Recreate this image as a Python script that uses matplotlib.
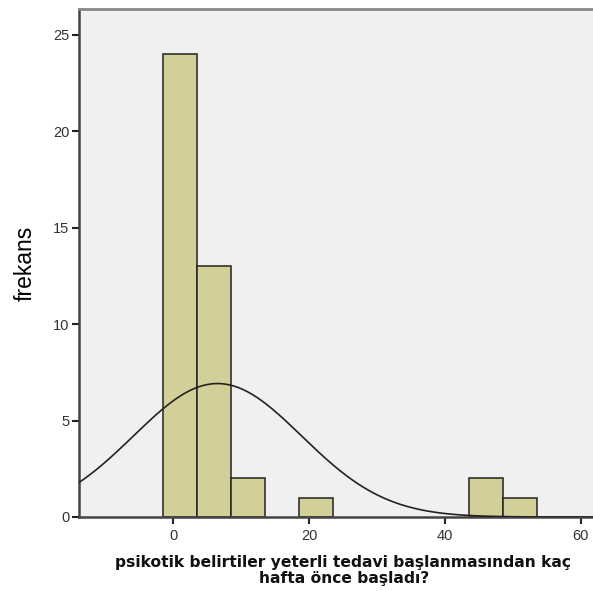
import numpy as np
import matplotlib
matplotlib.use("Agg")
import matplotlib.pyplot as plt

# Data
bin_edges = [-1.5, 3.5, 8.5, 13.5, 18.5, 23.5, 28.5, 33.5, 38.5, 43.5, 48.5, 53.5]
counts = [24, 13, 2, 0, 1, 0, 0, 0, 0, 2, 1]
mean_val = 6.5
sd_val = 12.4
n_total = 43
bin_width = 5.0

x_ticks = [0, 20, 40, 60]
y_ticks = [0, 5, 10, 15, 20, 25]
x_label_lines = ["psikotik belirtiler yeterli tedavi başlanmasından kaç", "hafta önce başladı?"]
y_label = "frekans"

plt.rcParams['font.family'] = ['Liberation Sans', 'DejaVu Sans']

fig = plt.figure(figsize=(5.93, 5.91), dpi=100)
ax = fig.add_axes([79/593, 1-517/591, 1-79/593, (517-9)/591])
ax.set_facecolor('#F0F0F0')

lefts = np.array(bin_edges[:-1])
widths = np.diff(bin_edges)
for l, w, c in zip(lefts, widths, counts):
    if c > 0:
        ax.bar(l, c, width=w, align='edge', color='#D3CF99', edgecolor='#222222', linewidth=1.1, zorder=2)

xs = np.linspace(-14, 62, 400)
ys = n_total * bin_width / (sd_val * np.sqrt(2*np.pi)) * np.exp(-0.5*((xs-mean_val)/sd_val)**2)
ax.plot(xs, ys, color='#222222', linewidth=1.2, zorder=3)

ax.set_xlim(-13.9, 61.8)
ax.set_ylim(0, 26.33)
ax.set_xticks(x_ticks)
ax.set_yticks(y_ticks)
ax.tick_params(axis='both', labelsize=10.5, colors='#222222', length=5, width=1.5, pad=2)
ax.tick_params(axis='x', pad=4)
for lab in ax.get_xticklabels() + ax.get_yticklabels():
    lab.set_color('#333333')

for s in ['left', 'bottom']:
    ax.spines[s].set_color('#444444')
    ax.spines[s].set_linewidth(1.8)
ax.spines['top'].set_color('#888888')
ax.spines['top'].set_linewidth(2)
ax.spines['right'].set_visible(False)

ax.set_ylabel(y_label, fontsize=16.5, labelpad=12)

fig.text(343/593, 1-567/591, x_label_lines[0], ha='center', va='baseline',
         fontsize=11.2, fontweight='bold', family=['DejaVu Sans'], color='#111111')
fig.text(344/593, 1-583/591, x_label_lines[1], ha='center', va='baseline',
         fontsize=11.2, fontweight='bold', family=['DejaVu Sans'], color='#111111')

fig.savefig('out.png', dpi=100)
